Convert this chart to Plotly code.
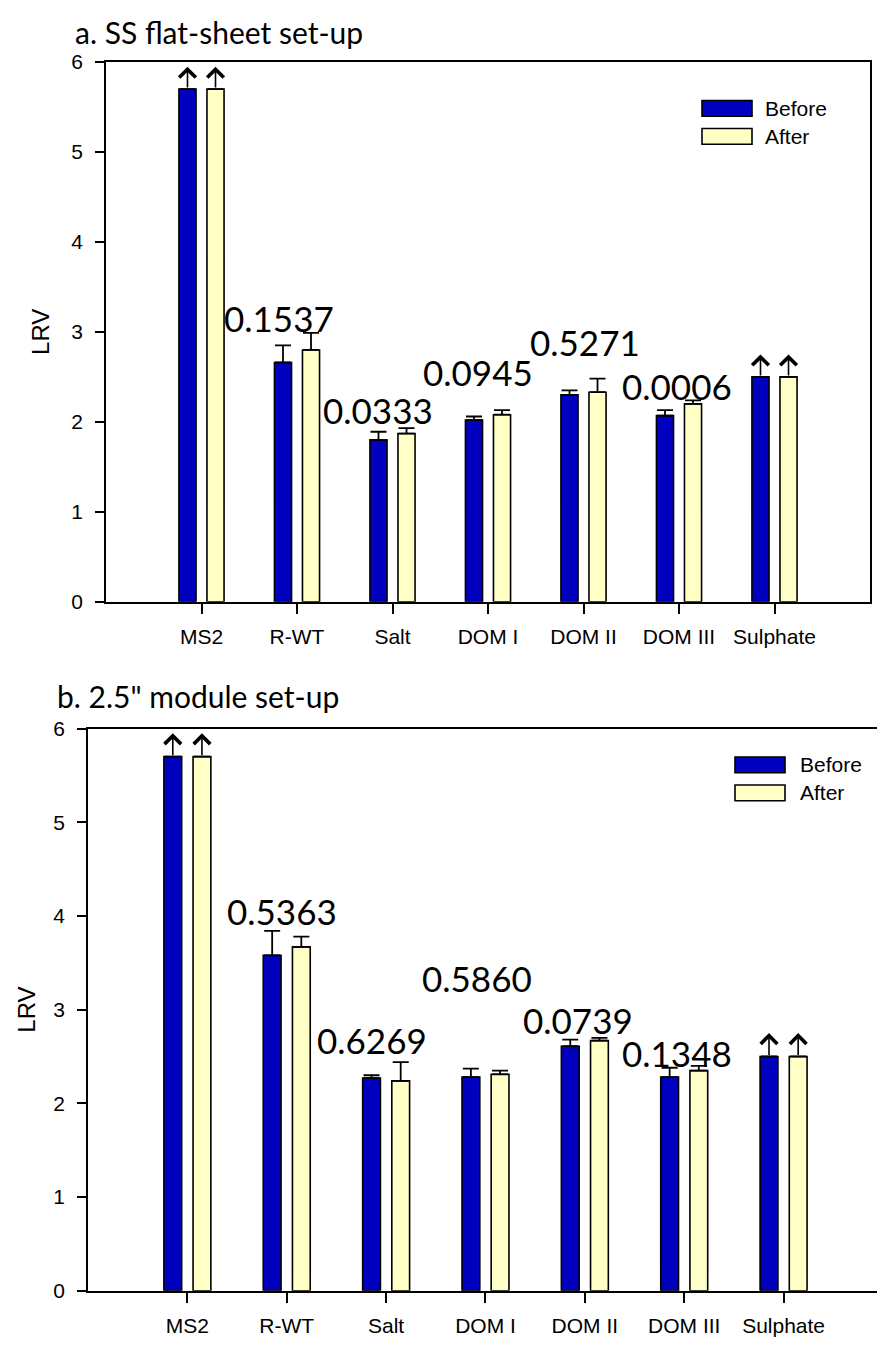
import plotly.graph_objects as go

# ---------------- data ----------------
categories = ["MS2", "R-WT", "Salt", "DOM I", "DOM II", "DOM III", "Sulphate"]

# a. SS flat-sheet set-up
a_before = [5.7, 2.66, 1.80, 2.02, 2.30, 2.07, 2.5]
a_before_err = [0, 0.19, 0.09, 0.04, 0.05, 0.06, 0]
a_after = [5.7, 2.80, 1.87, 2.08, 2.33, 2.20, 2.5]
a_after_err = [0, 0.19, 0.06, 0.05, 0.15, 0.04, 0]
a_pvalues = ["0.1537", "0.0333", "0.0945", "0.5271", "0.0006"]

# b. 2.5" module set-up
b_before = [5.7, 3.58, 2.27, 2.28, 2.61, 2.28, 2.5]
b_before_err = [0, 0.26, 0.03, 0.09, 0.07, 0.10, 0]
b_after = [5.7, 3.67, 2.24, 2.31, 2.67, 2.35, 2.5]
b_after_err = [0, 0.11, 0.20, 0.04, 0.03, 0.05, 0]
b_pvalues = ["0.5363", "0.6269", "0.5860", "0.0739", "0.1348"]

# categories whose LRV is a lower bound (drawn with an up arrow)
lower_bound = [True, False, False, False, False, False, True]
# categories that carry a p-value label
p_categories = ["R-WT", "Salt", "DOM I", "DOM II", "DOM III"]

# ---------------- styling ----------------
W, H = 877, 1347
BLUE = "#0000BE"
CREAM = "#FFFFC6"
BARGAP = 0.413
BARGROUPGAP = 0.39
ARROW_LEN = 0.25
AXIS_FONT = "Arial, Liberation Sans, sans-serif"
LABEL_FONT = "Lato, Noto Sans, sans-serif"

# label placement (dx from category centre, y in LRV units)
a_p_place = [(-0.19, 3.15), (-0.15, 2.13), (-0.10, 2.56), (0.02, 2.89), (-0.02, 2.40)]
b_p_place = [(-0.05, 4.05), (-0.14, 2.68), (-0.09, 3.34), (-0.07, 2.89), (-0.07, 2.54)]

# panel geometry in pixels
panel_a = dict(left=106, right=870, top=51, bottom=600, xmax=7.0, mirror_y=True)
panel_b = dict(left=88, right=877, top=729, bottom=1301, xmax=6.94, mirror_y=False)


def px(x):
    return x / W


def py(y):
    return 1 - y / H


idx = list(range(len(categories)))
half = (1 - BARGAP) / 4  # centre offset of each bar within a group

fig = go.Figure()
annotations = []
shapes = []

panels = [
    ("", panel_a, a_before, a_before_err, a_after, a_after_err, a_pvalues, a_p_place,
     "a. SS flat-sheet set-up", (73, 20), (702, 90, 763), 41),
    ("2", panel_b, b_before, b_before_err, b_after, b_after_err, b_pvalues, b_p_place,
     "b. 2.5\" module set-up", (55, 696), (735, 758, 798), 27),
]

for suffix, geo, before, before_err, after, after_err, pvals, place, title, tpos, leg, lrv_x in panels:
    xa, ya = "x" + suffix, "y" + suffix
    for name, vals, errs, color in [("Before", before, before_err, BLUE),
                                    ("After", after, after_err, CREAM)]:
        fig.add_trace(go.Bar(
            x=idx, y=vals, name=name, xaxis=xa, yaxis=ya,
            marker=dict(color=color, line=dict(color="black", width=1.6)),
            error_y=dict(type="data", array=errs, arrayminus=[0] * len(errs),
                         symmetric=False, color="black", thickness=1.8, width=8),
            showlegend=False,
        ))

    # up arrows on lower-bound values
    for i, flag in enumerate(lower_bound):
        if not flag:
            continue
        for sign, vals in [(-1, before), (1, after)]:
            xx = i + sign * half
            annotations.append(dict(
                x=xx, y=vals[i] + ARROW_LEN, ax=xx, ay=vals[i],
                xref=xa, yref=ya, axref=xa, ayref=ya, text="",
                showarrow=True, arrowhead=4, arrowsize=2.0, arrowwidth=1.6,
                arrowcolor="black", standoff=0, startstandoff=0,
            ))

    # p-value labels
    for label, cat, (dx, yy) in zip(pvals, p_categories, place):
        annotations.append(dict(
            x=categories.index(cat) + dx, y=yy, xref=xa, yref=ya, text=label,
            showarrow=False, xanchor="center", yanchor="middle",
            font=dict(family=LABEL_FONT, size=35, color="black"),
        ))

    # panel title
    annotations.append(dict(
        x=px(tpos[0]), y=py(tpos[1]), xref="paper", yref="paper", text=title,
        showarrow=False, xanchor="left", yanchor="middle",
        font=dict(family=LABEL_FONT, size=30, color="black"),
    ))

    # y-axis title
    annotations.append(dict(
        x=px(lrv_x), y=py((geo["top"] + geo["bottom"]) / 2), xref="paper", yref="paper",
        text="LRV", textangle=-90, showarrow=False, xanchor="center", yanchor="middle",
        font=dict(family=AXIS_FONT, size=24, color="black"),
    ))

    # legend
    lx, ly, tx = leg
    for k, (name, color) in enumerate([("Before", BLUE), ("After", CREAM)]):
        y0 = ly + k * 28.5
        shapes.append(dict(
            type="rect", xref="paper", yref="paper",
            x0=px(lx), x1=px(lx + 50), y0=py(y0), y1=py(y0 + 16),
            fillcolor=color, line=dict(color="black", width=1.6),
        ))
        annotations.append(dict(
            x=px(tx), y=py(y0 + 8), xref="paper", yref="paper", text=name,
            showarrow=False, xanchor="left", yanchor="middle",
            font=dict(family=AXIS_FONT, size=21, color="black"),
        ))

    xaxis = dict(
        domain=[px(geo["left"]), px(geo["right"])], range=[-1, geo["xmax"]],
        anchor=ya, tickmode="array", tickvals=idx, ticktext=categories,
        ticks="outside", ticklen=10, tickwidth=1.8, tickcolor="black",
        showline=True, linecolor="black", linewidth=1.8, mirror=True,
        showgrid=False, zeroline=False, ticklabelstandoff=5,
        tickfont=dict(family=AXIS_FONT, size=21, color="black"),
    )
    yaxis = dict(
        domain=[py(geo["bottom"]), py(geo["top"])], range=[0, 6],
        anchor=xa, tickmode="array", tickvals=[0, 1, 2, 3, 4, 5, 6],
        ticks="outside", ticklen=9, tickwidth=1.8, tickcolor="black",
        showline=True, linecolor="black", linewidth=1.8, mirror=geo["mirror_y"],
        showgrid=False, zeroline=False, ticklabelstandoff=8,
        tickfont=dict(family=AXIS_FONT, size=21, color="black"),
    )
    fig.update_layout(**{"xaxis" + suffix: xaxis, "yaxis" + suffix: yaxis})

fig.update_layout(
    width=W, height=H, margin=dict(l=0, r=0, t=0, b=0),
    paper_bgcolor="white", plot_bgcolor="white",
    barmode="group", bargap=BARGAP, bargroupgap=BARGROUPGAP,
    annotations=annotations, shapes=shapes, showlegend=False,
)

fig.write_html("out.html")
